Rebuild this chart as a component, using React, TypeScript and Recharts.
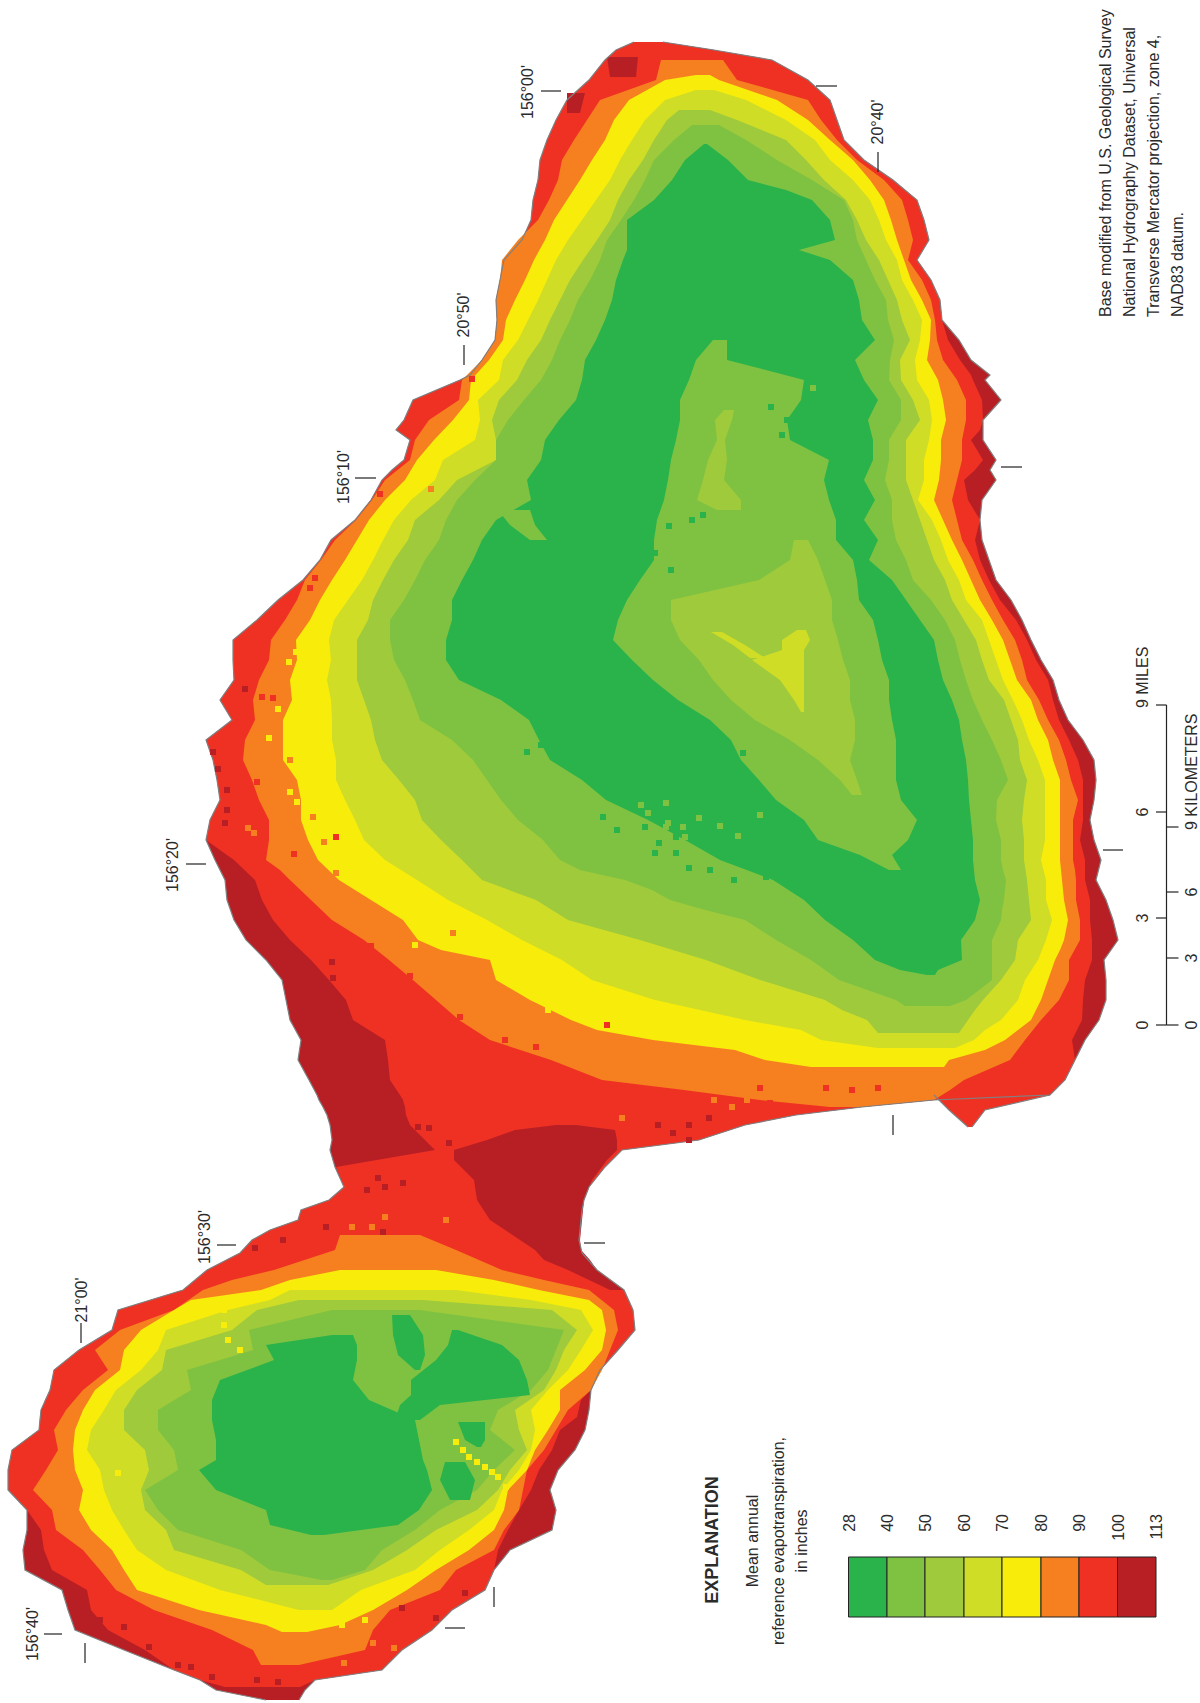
import { Area, ComposedChart, ReferenceArea, ReferenceLine, Scatter, XAxis, YAxis } from 'recharts'

// map rows are [y, west edge, east edge] in picture units
type Row = [number, number, number]
type Cell = [number, number]

const coast: Row[] = [
  [42, 634, 663], [50, 616, 714], [60, 605, 772], [80, 589, 808], [100, 567, 830], [120, 556, 837], [140, 547, 844],
  [160, 540, 864], [180, 538, 893], [200, 533, 917], [220, 531, 924], [240, 522, 929], [260, 504, 917], [280, 500, 931],
  [300, 496, 940], [320, 497, 942], [340, 495, 959], [360, 482, 971], [375, 470, 990], [380, 460, 985], [400, 413, 1001],
  [420, 404, 983], [430, 396, 983], [440, 410, 983], [460, 404, 996], [470, 392, 990], [480, 382, 996], [500, 371, 982],
  [520, 355, 980], [540, 331, 982], [560, 320, 989], [580, 303, 996], [600, 278, 1011], [620, 257, 1022], [640, 233, 1031],
  [660, 233, 1041], [680, 234, 1053], [700, 220, 1059], [720, 232, 1068], [740, 206, 1083], [760, 213, 1094], [780, 217, 1096],
  [800, 220, 1094], [820, 210, 1090], [840, 206, 1094], [860, 215, 1101], [880, 225, 1096], [900, 227, 1106], [920, 234, 1113],
  [940, 246, 1118], [960, 266, 1104], [980, 282, 1106], [1000, 286, 1106], [1020, 290, 1099], [1040, 301, 1085], [1060, 298, 1075],
  [1080, 309, 1065], [1095, 317, 1050], [1100, 319, 934], [1107, 323, 862], [1115, 327, 796], [1125, 330, 745], [1140, 332, 699],
  [1150, 330, 622], [1167, 335, 605], [1187, 344, 589], [1200, 329, 584], [1210, 301, 582], [1220, 298, 581], [1230, 270, 580],
  [1240, 252, 579], [1253, 240, 582], [1270, 207, 597], [1290, 183, 624], [1310, 118, 633], [1330, 112, 635], [1350, 79, 618],
  [1370, 54, 600], [1390, 50, 591], [1410, 41, 589], [1430, 39, 585], [1450, 12, 575], [1470, 8, 558], [1490, 8, 550],
  [1510, 27, 556], [1530, 27, 552], [1550, 23, 510], [1570, 25, 494], [1590, 62, 485], [1610, 68, 452], [1630, 75, 432],
  [1650, 124, 402], [1670, 174, 382], [1680, 200, 315], [1690, 216, 305], [1700, 266, 299],
]
const coastTip: Row[] = [[1095, 934, 1050], [1110, 949, 985], [1127, 968, 972]]

const red: Row[] = [
  [42, 634, 663], [50, 616, 714], [60, 605, 772], [80, 589, 808], [100, 567, 830], [120, 556, 837], [140, 547, 844],
  [160, 540, 864], [180, 538, 893], [200, 533, 917], [220, 531, 924], [240, 522, 929], [260, 504, 917], [280, 500, 931],
  [300, 496, 940], [320, 497, 942], [340, 495, 948], [360, 482, 960], [375, 470, 971], [380, 460, 973], [400, 413, 982],
  [420, 404, 983], [430, 396, 980], [440, 410, 971], [460, 404, 983], [470, 392, 975], [480, 382, 964], [500, 371, 968],
  [520, 355, 980], [540, 331, 975], [560, 320, 980], [580, 303, 989], [600, 278, 1000], [620, 257, 1016], [640, 233, 1027],
  [660, 233, 1036], [680, 234, 1048], [700, 220, 1053], [720, 232, 1059], [740, 206, 1069], [760, 213, 1078], [780, 217, 1083],
  [800, 220, 1083], [820, 210, 1083], [840, 206, 1080], [860, 234, 1085], [880, 255, 1085], [900, 262, 1090], [920, 273, 1090],
  [940, 290, 1092], [960, 311, 1092], [980, 329, 1085], [1000, 346, 1083], [1020, 353, 1082], [1040, 385, 1072], [1060, 388, 1075],
  [1080, 390, 1065], [1095, 400, 1050], [1100, 403, 934], [1107, 405, 862], [1115, 406, 796], [1125, 410, 745], [1140, 425, 699],
  [1150, 435, 622], [1167, 336, 605], [1187, 344, 589], [1200, 329, 584], [1210, 301, 582], [1220, 298, 581], [1230, 270, 580],
  [1240, 252, 579], [1253, 240, 582], [1270, 207, 597], [1290, 183, 624], [1310, 118, 633], [1330, 112, 635], [1350, 79, 618],
  [1370, 54, 600], [1390, 50, 591], [1400, 45, 581], [1417, 40, 577], [1430, 39, 560], [1450, 12, 552], [1470, 8, 539],
  [1490, 8, 531], [1510, 27, 519], [1530, 41, 508], [1550, 44, 498], [1570, 52, 494], [1590, 87, 485], [1610, 91, 452],
  [1630, 108, 432], [1650, 145, 402], [1670, 174, 382], [1680, 200, 315], [1687, 225, 300],
]
const darkCentral: Row[] = [
  [1125, 556, 576], [1130, 515, 615], [1140, 487, 617], [1150, 454, 617], [1160, 454, 607], [1180, 474, 592], [1200, 477, 584],
  [1220, 490, 582], [1240, 520, 580], [1250, 535, 581], [1260, 544, 590], [1270, 568, 597], [1280, 589, 610], [1290, 610, 624],
]
const darkNorth: Row[] = [[57, 607, 638], [77, 610, 636]]
const darkNorth2: Row[] = [[93, 567, 585], [113, 567, 580]]

const orangeEast: Row[] = [
  [60, 661, 723], [80, 656, 737], [100, 600, 808], [120, 587, 821], [140, 574, 837], [160, 562, 857], [180, 558, 884],
  [200, 549, 902], [220, 538, 908], [240, 518, 913], [260, 502, 908], [280, 500, 922], [300, 496, 931], [320, 497, 935],
  [340, 495, 937], [360, 482, 943], [380, 462, 957], [400, 459, 966], [420, 429, 966], [440, 415, 962], [460, 410, 962],
  [480, 385, 957], [500, 372, 952], [520, 356, 957], [540, 335, 962], [560, 321, 973], [580, 305, 982], [600, 297, 992],
  [620, 285, 1003], [640, 271, 1015], [660, 269, 1022], [680, 259, 1027], [700, 253, 1039], [720, 255, 1048], [740, 245, 1059],
  [760, 243, 1066], [780, 252, 1071], [800, 259, 1078], [820, 269, 1073], [840, 269, 1073], [860, 266, 1073], [870, 280, 1075],
  [880, 290, 1076], [900, 311, 1076], [920, 332, 1080], [940, 364, 1080], [960, 389, 1069], [980, 413, 1069], [1000, 436, 1059],
  [1020, 459, 1041], [1040, 490, 1025], [1060, 551, 1010], [1080, 602, 964], [1090, 684, 950], [1100, 760, 934], [1107, 830, 862],
]
const yellowEast: Row[] = [
  [75, 696, 710], [80, 665, 719], [100, 629, 777], [120, 614, 808], [140, 605, 830], [160, 592, 853], [180, 580, 870],
  [200, 567, 884], [220, 554, 891], [240, 545, 897], [260, 534, 904], [280, 525, 911], [300, 515, 922], [320, 506, 931],
  [340, 503, 930], [360, 489, 927], [380, 471, 938], [400, 469, 943], [420, 453, 946], [440, 434, 941], [460, 417, 941],
  [480, 405, 939], [500, 385, 934], [520, 369, 943], [540, 357, 952], [560, 345, 962], [580, 332, 971], [600, 320, 980],
  [620, 310, 992], [640, 296, 1003], [660, 297, 1010], [680, 290, 1017], [700, 292, 1031], [720, 283, 1038], [740, 283, 1048],
  [760, 283, 1053], [780, 297, 1060], [800, 301, 1060], [820, 301, 1060], [840, 308, 1060], [860, 318, 1060], [880, 339, 1062],
  [900, 371, 1064], [920, 403, 1068], [940, 418, 1064], [950, 441, 1060], [960, 490, 1055], [980, 496, 1048], [1000, 530, 1041],
  [1020, 571, 1031], [1030, 597, 1018], [1040, 653, 1005], [1050, 735, 985], [1060, 765, 949], [1067, 811, 944],
]
const lime60East: Row[] = [
  [90, 696, 714], [100, 665, 746], [120, 645, 786], [140, 632, 815], [160, 620, 830], [180, 610, 853], [200, 596, 870],
  [220, 582, 879], [240, 568, 886], [260, 556, 897], [280, 547, 902], [300, 538, 913], [320, 528, 922], [340, 518, 920],
  [360, 503, 915], [380, 499, 917], [400, 478, 929], [420, 480, 932], [440, 475, 929], [460, 443, 924], [480, 435, 924],
  [500, 411, 918], [520, 394, 932], [540, 383, 941], [560, 373, 948], [580, 362, 959], [600, 348, 966], [620, 334, 982],
  [640, 329, 989], [660, 331, 996], [680, 327, 1003], [700, 331, 1013], [720, 332, 1022], [740, 332, 1029], [760, 336, 1038],
  [780, 336, 1045], [800, 345, 1045], [820, 355, 1045], [840, 364, 1045], [860, 385, 1041], [880, 417, 1046], [900, 448, 1046],
  [920, 487, 1052], [940, 522, 1046], [960, 562, 1038], [980, 592, 1025], [1000, 655, 1018], [1020, 745, 1001], [1030, 801, 985],
  [1040, 821, 974], [1048, 878, 955],
]
const lime50East: Row[] = [
  [110, 679, 710], [120, 667, 737], [140, 654, 786], [160, 643, 806], [180, 629, 824], [200, 618, 846], [220, 610, 857],
  [240, 597, 866], [260, 583, 879], [280, 570, 888], [300, 560, 897], [320, 550, 902], [340, 541, 910], [360, 527, 900],
  [380, 517, 901], [400, 499, 913], [420, 492, 920], [440, 496, 906], [460, 496, 906], [480, 457, 906], [500, 439, 913],
  [520, 415, 920], [540, 408, 927], [560, 394, 934], [580, 383, 945], [600, 373, 952], [620, 368, 964], [640, 357, 976],
  [660, 357, 982], [680, 357, 989], [700, 364, 1004], [720, 371, 1011], [740, 375, 1018], [760, 382, 1020], [780, 399, 1027],
  [800, 415, 1024], [820, 422, 1022], [840, 441, 1024], [860, 462, 1024], [880, 482, 1027], [900, 536, 1029], [920, 568, 1031],
  [940, 640, 1018], [960, 706, 1015], [980, 760, 1001], [1000, 825, 983], [1010, 842, 975], [1020, 867, 968], [1033, 878, 959],
]
const lime40East: Row[] = [
  [125, 692, 719], [140, 674, 746], [160, 654, 777], [180, 645, 812], [200, 634, 844], [220, 621, 853], [240, 607, 857],
  [260, 600, 866], [280, 590, 875], [300, 578, 886], [320, 570, 888], [340, 560, 894], [360, 552, 890], [380, 541, 889],
  [400, 524, 901], [420, 508, 901], [440, 496, 889], [460, 496, 889], [480, 475, 885], [500, 457, 892], [520, 446, 892],
  [540, 439, 896], [560, 425, 906], [580, 415, 913], [600, 404, 931], [620, 390, 945], [640, 390, 955], [660, 394, 960],
  [680, 405, 966], [700, 413, 973], [720, 420, 982], [740, 452, 992], [760, 473, 1001], [780, 487, 1008], [800, 501, 997],
  [820, 518, 996], [840, 543, 1001], [860, 560, 1001], [870, 580, 1003], [880, 625, 1006], [890, 652, 1005], [900, 670, 1004],
  [910, 705, 1002], [920, 745, 1001], [940, 776, 992], [960, 811, 992], [980, 839, 992], [1000, 896, 966], [1006, 905, 950],
]
const greenEast: Row[] = [
  [144, 704, 707], [160, 685, 728], [180, 672, 748], [190, 663, 786], [200, 654, 812], [220, 627, 830], [240, 627, 835],
  [250, 627, 799], [260, 623, 830], [280, 616, 853], [300, 612, 859], [320, 605, 862], [340, 596, 875], [360, 585, 855],
  [380, 582, 864], [400, 576, 878], [420, 559, 868], [440, 545, 873], [460, 541, 873], [480, 527, 864], [500, 531, 875],
  [520, 496, 864], [540, 482, 878], [560, 473, 869], [580, 462, 892], [600, 452, 906], [620, 452, 920], [640, 446, 934],
  [660, 446, 938], [680, 459, 943], [700, 501, 952], [720, 529, 959], [740, 539, 962], [760, 550, 966], [780, 582, 968],
  [800, 606, 969], [820, 648, 971], [840, 685, 973], [860, 720, 973], [880, 773, 975], [900, 804, 980], [920, 825, 975],
  [940, 853, 961], [960, 875, 962], [970, 900, 938], [975, 927, 935],
]
const wedge40: Row[] = [[510, 498, 530], [525, 510, 535], [540, 530, 547]]
const crater40: Row[] = [
  [340, 713, 727], [360, 696, 727], [380, 689, 804], [400, 680, 801], [420, 680, 787], [440, 676, 790], [460, 671, 829],
  [480, 668, 824], [500, 664, 829], [520, 657, 836], [540, 654, 836], [560, 654, 853], [580, 640, 857], [600, 627, 859],
  [620, 618, 873], [640, 613, 878], [660, 632, 882], [680, 653, 889], [700, 678, 889], [720, 710, 892], [740, 731, 896],
  [760, 741, 896], [780, 759, 896], [800, 776, 901], [820, 804, 917], [840, 818, 908], [855, 860, 892], [870, 889, 901],
]
const crater50Streak: Row[] = [[410, 724, 734], [420, 715, 732], [440, 717, 725], [460, 708, 727], [480, 703, 724], [500, 697, 741], [510, 717, 741]]
const crater50: Row[] = [
  [540, 794, 808], [560, 790, 818], [580, 759, 825], [600, 671, 832], [620, 671, 832], [640, 680, 838], [660, 699, 843],
  [680, 713, 850], [700, 731, 850], [720, 755, 855], [740, 790, 855], [760, 818, 850], [780, 840, 857], [795, 852, 862],
]
const crater60: Row[] = [[630, 797, 806], [640, 782, 810], [650, 782, 804], [660, 752, 804], [680, 780, 804], [700, 794, 804], [712, 801, 804]]
const crater60Streak: Row[] = [[632, 711, 722], [645, 733, 745], [658, 750, 765]]

const orangeWest: Row[] = [
  [1235, 340, 420], [1250, 335, 456], [1270, 274, 502], [1280, 232, 544], [1290, 203, 589], [1310, 174, 614], [1330, 120, 618],
  [1350, 95, 610], [1370, 108, 602], [1390, 83, 591], [1410, 66, 568], [1430, 54, 556], [1450, 58, 544], [1470, 46, 527],
  [1490, 33, 523], [1510, 52, 519], [1530, 56, 504], [1550, 83, 494], [1570, 100, 456], [1590, 116, 440], [1610, 154, 390],
  [1630, 212, 373], [1650, 253, 365], [1665, 261, 299],
]
const yellowWest: Row[] = [
  [1270, 340, 436], [1280, 290, 494], [1290, 261, 539], [1300, 191, 589], [1310, 174, 602], [1330, 141, 606], [1350, 124, 602],
  [1370, 120, 585], [1390, 95, 560], [1410, 83, 560], [1430, 75, 548], [1450, 73, 535], [1470, 75, 527], [1490, 83, 508],
  [1510, 79, 504], [1530, 91, 494], [1550, 112, 469], [1570, 124, 436], [1590, 137, 407], [1610, 199, 373], [1625, 266, 340],
  [1632, 282, 307],
]
const lime60West: Row[] = [
  [1290, 290, 456], [1300, 270, 531], [1310, 228, 581], [1330, 166, 593], [1350, 158, 581], [1370, 141, 568], [1390, 116, 548],
  [1410, 104, 531], [1430, 91, 535], [1450, 87, 531], [1470, 100, 519], [1490, 104, 502], [1510, 112, 494], [1530, 124, 469],
  [1550, 137, 440], [1570, 166, 415], [1590, 220, 361], [1610, 299, 332],
]
const lime50West: Row[] = [
  [1300, 299, 423], [1310, 257, 552], [1330, 232, 577], [1350, 166, 564], [1370, 162, 556], [1390, 137, 544], [1410, 124, 515],
  [1430, 124, 519], [1450, 145, 527], [1470, 149, 510], [1490, 141, 498], [1510, 145, 477], [1530, 166, 436], [1550, 174, 407],
  [1570, 241, 373], [1585, 266, 328],
]
const lime40West: Row[] = [
  [1310, 332, 420], [1330, 249, 564], [1350, 253, 556], [1370, 187, 548], [1390, 191, 531], [1410, 158, 498], [1430, 158, 490],
  [1450, 174, 515], [1470, 178, 494], [1490, 145, 477], [1510, 158, 440], [1530, 178, 415], [1550, 241, 382], [1570, 270, 365],
  [1580, 322, 332],
]
const greenWest: Row[] = [
  [1335, 332, 353], [1345, 266, 357], [1360, 274, 357], [1380, 220, 353], [1400, 212, 369], [1420, 212, 415], [1440, 216, 419],
  [1460, 216, 423], [1470, 199, 427], [1490, 216, 432], [1510, 266, 419], [1525, 270, 398], [1535, 311, 324],
]
const greenWest2: Row[] = [[1330, 452, 458], [1345, 448, 502], [1360, 436, 519], [1380, 411, 527], [1395, 411, 530], [1405, 400, 440], [1420, 395, 420]]
const greenWest3: Row[] = [[1315, 392, 410], [1335, 393, 423], [1355, 398, 425], [1370, 415, 420]]
const greenWest4: Row[] = [[1462, 445, 465], [1480, 440, 475], [1500, 450, 470]]
const greenWest5: Row[] = [[1422, 458, 485], [1440, 465, 485], [1447, 477, 481]]

// stray raster cells [x, y]
const cellsYellow: Cell[] = [
  [269, 738], [278, 709], [290, 792], [297, 802], [415, 945], [543, 1000], [548, 1010], [296, 652], [289, 662],
  [456, 1442], [463, 1450], [469, 1457], [477, 1462], [485, 1467], [492, 1472], [498, 1477], [506, 1487],
  [224, 1310], [224, 1325], [228, 1340], [240, 1350], [118, 1473], [124, 1562], [141, 1582], [365, 1620], [342, 1625],
]
const cellsOrange: Cell[] = [
  [313, 817], [336, 873], [324, 842], [290, 760], [453, 933], [248, 828], [254, 833], [431, 489], [622, 1118], [732, 1107],
  [714, 1100], [747, 1100], [385, 1217], [446, 1220], [352, 1227], [372, 1227], [344, 1663], [373, 1643], [394, 1648],
]
const cellsRed: Cell[] = [
  [262, 697], [273, 698], [257, 782], [294, 854], [371, 946], [410, 976], [460, 1017], [336, 837], [472, 379], [315, 578],
  [310, 588], [380, 494], [607, 1025], [505, 1040], [536, 1047], [760, 1088], [826, 1088], [852, 1090], [878, 1088], [770, 1103],
]
const cellsDark: Cell[] = [
  [245, 689], [213, 752], [218, 769], [227, 790], [227, 810], [225, 823], [332, 962], [333, 978], [658, 1125], [689, 1125],
  [709, 1118], [673, 1133], [689, 1140], [372, 1112], [352, 1122], [418, 1127], [429, 1128], [398, 1142], [413, 1142], [449, 1143],
  [388, 1147], [378, 1178], [385, 1187], [367, 1190], [403, 1183], [326, 1227], [383, 1232], [283, 1240], [255, 1248], [83, 1610],
  [100, 1620], [124, 1627], [149, 1647], [178, 1665], [191, 1667], [212, 1677], [257, 1680], [278, 1682], [402, 1608], [436, 1618],
  [465, 1593],
]
const cellsGreen: Cell[] = [
  [527, 752], [541, 745], [545, 735], [610, 790], [620, 797], [641, 790], [603, 817], [617, 830], [645, 827], [659, 843],
  [676, 837], [655, 853], [676, 853], [689, 868], [710, 870], [722, 850], [734, 880], [750, 862], [766, 877], [743, 753],
  [703, 515], [692, 520], [669, 526], [655, 553], [671, 570], [771, 407], [787, 420], [792, 430], [782, 435],
]
const cellsLime40: Cell[] = [
  [641, 805], [648, 813], [666, 803], [683, 827], [666, 827], [624, 813], [699, 818], [720, 826], [668, 823], [685, 837],
  [760, 815], [738, 836], [813, 388],
]

// tick marks on the frame of the map
const mapTicks: [number, number, number, number][] = [
  [541, 91, 561, 91], [816, 86, 837, 86], [878, 152, 878, 172], [464, 345, 464, 365], [355, 478, 376, 478], [186, 864, 206, 864],
  [217, 1245, 236, 1245], [81, 1323, 81, 1343], [44, 1634, 62, 1634], [85, 1643, 85, 1663], [494, 1587, 494, 1607], [445, 1628, 465, 1628],
  [1001, 467, 1022, 467], [1103, 850, 1123, 850], [893, 1115, 893, 1135], [584, 1243, 605, 1243],
]
const mapTickLabels: [number, number, string][] = [
  [533, 92, "156°00'"], [883, 122, "20°40'"], [469, 315, "20°50'"], [349, 477, "156°10'"], [178, 865, "156°20'"],
  [210, 1237, "156°30'"], [87, 1300, "21°00'"], [38, 1634, "156°40'"],
]

const baseNote: [number, string][] = [
  [1111, 'Base modified from U.S.  Geological Survey'],
  [1135, 'National Hydrography Dataset, Universal'],
  [1159, 'Transverse Mercator projection, zone 4,'],
  [1183, 'NAD83 datum.'],
]

const legendTitle: [number, string][] = [
  [758, 'Mean annual'],
  [784, 'reference evapotranspiration,'],
  [807, 'in inches'],
]
const legendEdges = [848.5, 887, 925, 964, 1002, 1041, 1079, 1117.5, 1156]
const legendValues = ['28', '40', '50', '60', '70', '80', '90', '100', '113']
const bandColors = ['#2bb34b', '#7fc242', '#9fca3b', '#cfdd26', '#f8ec0b', '#f6801f', '#ef3124', '#b81f25']

const milesTicks: [number, string][] = [[705, '9 MILES'], [812, '6'], [918, '3'], [1025, '0']]
const kmTicks: [number, string][] = [[827, '9 KILOMETERS'], [892, '6'], [958, '3'], [1025, '0']]

const FONT = '"Liberation Sans", Arial, sans-serif'
const [GREEN, L40, L50, L60, YELLOW, ORANGE, RED, DARK] = bandColors

const layers: [Row[], string][] = [
  [coast, DARK],
  [red, RED],
  [coastTip, RED],
  [darkCentral, DARK],
  [darkNorth, DARK],
  [darkNorth2, DARK],
  [orangeEast, ORANGE],
  [orangeWest, ORANGE],
  [yellowEast, YELLOW],
  [yellowWest, YELLOW],
  [lime60East, L60],
  [lime60West, L60],
  [lime50East, L50],
  [lime50West, L50],
  [lime40East, L40],
  [lime40West, L40],
  [greenEast, GREEN],
  [greenWest, GREEN],
  [greenWest2, GREEN],
  [greenWest3, GREEN],
  [greenWest4, GREEN],
  [greenWest5, GREEN],
  [wedge40, L40],
  [crater40, L40],
  [crater50, L50],
  [crater50Streak, L50],
  [crater60, L60],
  [crater60Streak, L60],
]

const cellLayers: [Cell[], string][] = [
  [cellsYellow, YELLOW],
  [cellsOrange, ORANGE],
  [cellsRed, RED],
  [cellsDark, DARK],
  [cellsGreen, GREEN],
  [cellsLime40, L40],
]

const toRows = (rows: Row[]) => rows.map(([y, lo, hi]) => ({ y, range: [lo, hi] }))

function CellShape(color: string) {
  return (p: any) => <rect x={p.cx - 3} y={p.cy - 3} width={6} height={6} fill={color} />
}

// rotated text, placed through the chart scales by a one point Scatter
function Rotated({ x, y, text, size = 16, anchor = 'middle', weight = 400 }: any) {
  return (
    <Scatter
      key={`${text}-${x}-${y}`}
      data={[{ x, y }]}
      isAnimationActive={false}
      shape={(p: any) => (
        <text
          transform={`translate(${p.cx} ${p.cy}) rotate(-90)`}
          textAnchor={anchor}
          fontFamily={FONT}
          fontSize={size}
          fontWeight={weight}
          fill="#2b2b2b"
        >
          {text}
        </text>
      )}
    />
  )
}

export default function App() {
  return (
    <div style={{ position: 'absolute', left: 0, top: 0, width: 1200, height: 1703, background: '#fff' }}>
      <ComposedChart width={1200} height={1703} layout="vertical" margin={{ top: 0, right: 0, bottom: 0, left: 0 }}>
        <XAxis type="number" dataKey="x" domain={[0, 1200]} allowDataOverflow hide />
        <YAxis type="number" dataKey="y" domain={[0, 1703]} allowDataOverflow hide />

        {layers.map(([rows, color], i) => (
          <Area
            key={i}
            data={toRows(rows)}
            dataKey="range"
            type="linear"
            stroke="none"
            fill={color}
            fillOpacity={1}
            dot={false}
            activeDot={false}
            isAnimationActive={false}
          />
        ))}

        {cellLayers.map(([cells, color], i) => (
          <Scatter
            key={i}
            data={cells.map(([x, y]) => ({ x, y }))}
            shape={CellShape(color)}
            isAnimationActive={false}
          />
        ))}

        {[coast, coastTip].map((rows, i) => (
          <Area
            key={i}
            data={toRows(rows)}
            dataKey="range"
            type="linear"
            stroke="#808080"
            strokeWidth={1.2}
            fill="none"
            dot={false}
            activeDot={false}
            isAnimationActive={false}
          />
        ))}

        {mapTicks.map(([x1, y1, x2, y2], i) => (
          <ReferenceLine key={i} segment={[{ x: x1, y: y1 }, { x: x2, y: y2 }]} stroke="#222" strokeWidth={1.2} />
        ))}
        {mapTickLabels.map(([x, y, text]) => Rotated({ x, y, text }))}
        {baseNote.map(([x, text]) => Rotated({ x, y: 317, text, size: 16, anchor: 'start' }))}

        {Rotated({ x: 718, y: 1540, text: 'EXPLANATION', size: 18, weight: 700 })}
        {legendTitle.map(([x, text]) => Rotated({ x, y: 1541, text, size: 16 }))}

        {bandColors.map((color, i) => (
          <ReferenceArea
            key={color}
            x1={legendEdges[i]}
            x2={legendEdges[i + 1]}
            y1={1557}
            y2={1617}
            fill={color}
            fillOpacity={1}
            stroke="#222"
            strokeWidth={1}
          />
        ))}
        {legendValues.map((text, i) => Rotated({ x: legendEdges[i] + 6, y: 1514, text, size: 16, anchor: 'end' }))}

        <ReferenceLine segment={[{ x: 1166.5, y: 705 }, { x: 1166.5, y: 1025 }]} stroke="#222" strokeWidth={1.2} />
        {milesTicks.map(([y]) => (
          <ReferenceLine key={y} segment={[{ x: 1156, y }, { x: 1166.5, y }]} stroke="#222" strokeWidth={1.2} />
        ))}
        {kmTicks.map(([y]) => (
          <ReferenceLine key={y} segment={[{ x: 1166.5, y }, { x: 1178.5, y }]} stroke="#222" strokeWidth={1.2} />
        ))}
        {milesTicks.map(([y, text], i) => Rotated({ x: 1148, y: i === 0 ? y + 3 : y, text, anchor: i === 0 ? 'start' : 'middle' }))}
        {kmTicks.map(([y, text], i) => Rotated({ x: 1197, y: i === 0 ? y + 3 : y, text, anchor: i === 0 ? 'start' : 'middle' }))}
      </ComposedChart>
    </div>
  )
}
